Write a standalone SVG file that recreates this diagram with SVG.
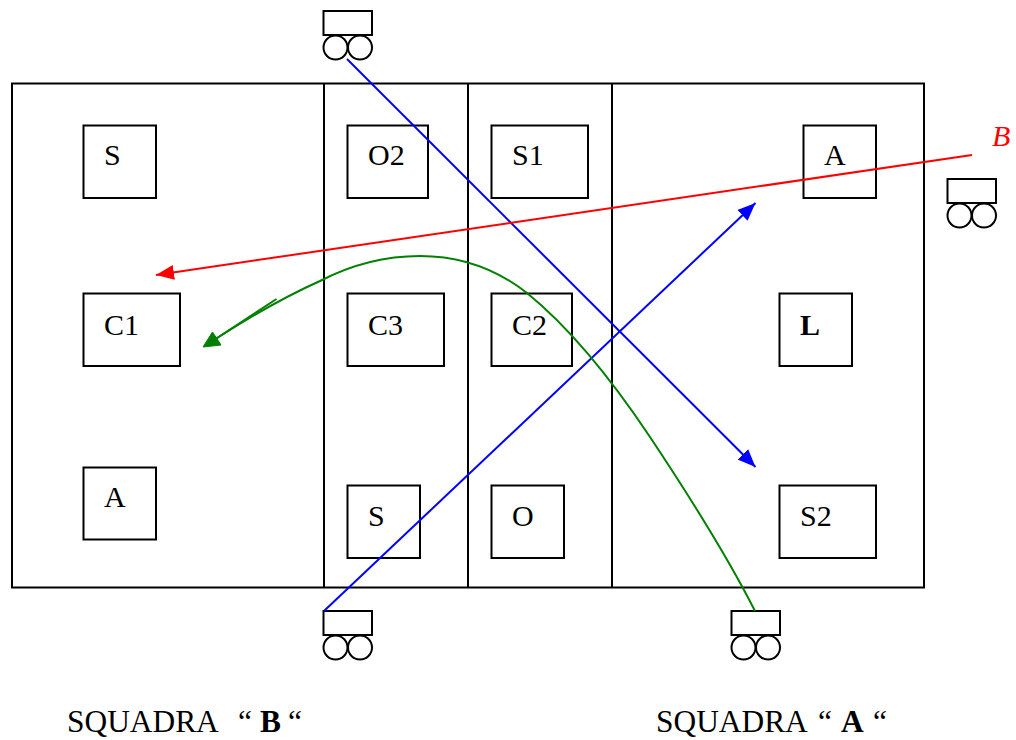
<svg xmlns="http://www.w3.org/2000/svg" width="1016" height="740" viewBox="0 0 1016 740">
<style>
.s{fill:none;stroke:#000;stroke-width:2}
text{font-family:"Liberation Serif","Times New Roman",serif;font-size:30px;fill:#000}
.c{fill:none;stroke-width:2}
.t{font-size:31.4px}
</style>
<defs>
<marker id="r" markerUnits="userSpaceOnUse" markerWidth="20" markerHeight="16" refX="18" refY="7.500" orient="auto"><path d="M0 0L18 7.500L0 15Z" fill="#f00"/></marker>
<marker id="bl" markerUnits="userSpaceOnUse" markerWidth="20" markerHeight="16" refX="18" refY="7.500" orient="auto"><path d="M0 0L18 7.500L0 15Z" fill="#00f"/></marker>
<g id="cartshape"><rect class="s" x="0" y="0" width="48.500" height="24"/><circle class="s" cx="12" cy="36.500" r="12"/><circle class="s" cx="36.500" cy="36.500" r="12"/></g>
</defs>
<g id="field"><rect class="s" x="12" y="83.500" width="912" height="504"/><path class="s" d="M324 83.500V587.500M468 83.500V587.500M612 83.500V587.500"/></g>
<g id="n-s-left"><rect class="s" x="83.500" y="125.500" width="72.500" height="72.500"/><text x="104" y="165">S</text></g>
<g id="n-c1"><rect class="s" x="83.500" y="293.500" width="96.500" height="72.500"/><text x="104" y="335">C1</text></g>
<g id="n-a-left"><rect class="s" x="83.500" y="467.500" width="72.500" height="72"/><text x="104" y="507">A</text></g>
<g id="n-o2"><rect class="s" x="347.500" y="125.500" width="80.500" height="72.500"/><text x="368" y="165">O2</text></g>
<g id="n-c3"><rect class="s" x="347.500" y="293.500" width="96.500" height="72.500"/><text x="368" y="335">C3</text></g>
<g id="n-s-mid"><rect class="s" x="347.500" y="485.500" width="72.500" height="72.500"/><text x="368" y="526">S</text></g>
<g id="n-s1"><rect class="s" x="491.500" y="125.500" width="96.500" height="72.500"/><text x="512" y="165">S1</text></g>
<g id="n-c2"><rect class="s" x="491.500" y="293.500" width="80.500" height="72.500"/><text x="512" y="335">C2</text></g>
<g id="n-o"><rect class="s" x="491.500" y="485.500" width="72.500" height="72.500"/><text x="512" y="526">O</text></g>
<g id="n-a-right"><rect class="s" x="803.500" y="125.500" width="72.500" height="72.500"/><text x="824" y="165">A</text></g>
<g id="n-l"><rect class="s" x="779.500" y="293.500" width="72.500" height="72.500"/><text x="800" y="335" font-weight="bold">L</text></g>
<g id="n-s2"><rect class="s" x="779.500" y="485.500" width="96.500" height="72.500"/><text x="800" y="526">S2</text></g>
<g id="cart-top"><use href="#cartshape" x="323.500" y="11"/></g>
<g id="cart-right"><use href="#cartshape" x="947.500" y="179"/></g>
<g id="cart-bottom-left"><use href="#cartshape" x="323.500" y="611"/></g>
<g id="cart-bottom-right"><use href="#cartshape" x="731.500" y="611"/></g>
<g id="connectors">
<line class="c" x1="347" y1="59" x2="755.500" y2="467" stroke="#00f" marker-end="url(#bl)"/>
<line class="c" x1="324" y1="611" x2="755.500" y2="203" stroke="#00f" marker-end="url(#bl)"/>
<line class="c" x1="972" y1="155" x2="156" y2="275" stroke="#f00" marker-end="url(#r)"/>
<path class="c" stroke="#008000" d="M755 611C725 552 690 497 650 437C612 380 570 328 527 293C495 268 460 256 420 256C380 256 347 267 320 281C282 298 248 318 214 340"/>
<path class="c" stroke="#008000" d="M276.500 299L214 340"/>
<path d="M212.500 332L221 345L203 347Z" fill="#008000" stroke="#008000" stroke-width="1"/>
</g>
<text x="992" y="146" style="fill:#f00;font-style:italic">B</text>
<text class="t" x="67" y="732">SQUADRA</text><text class="t" x="238" y="732">“</text><text class="t" x="260" y="732" font-weight="bold">B</text><text class="t" x="288" y="732">“</text>
<text class="t" x="656" y="732">SQUADRA</text><text class="t" x="818" y="732">“</text><text class="t" x="841" y="732" font-weight="bold">A</text><text class="t" x="873" y="732">“</text>
</svg>
